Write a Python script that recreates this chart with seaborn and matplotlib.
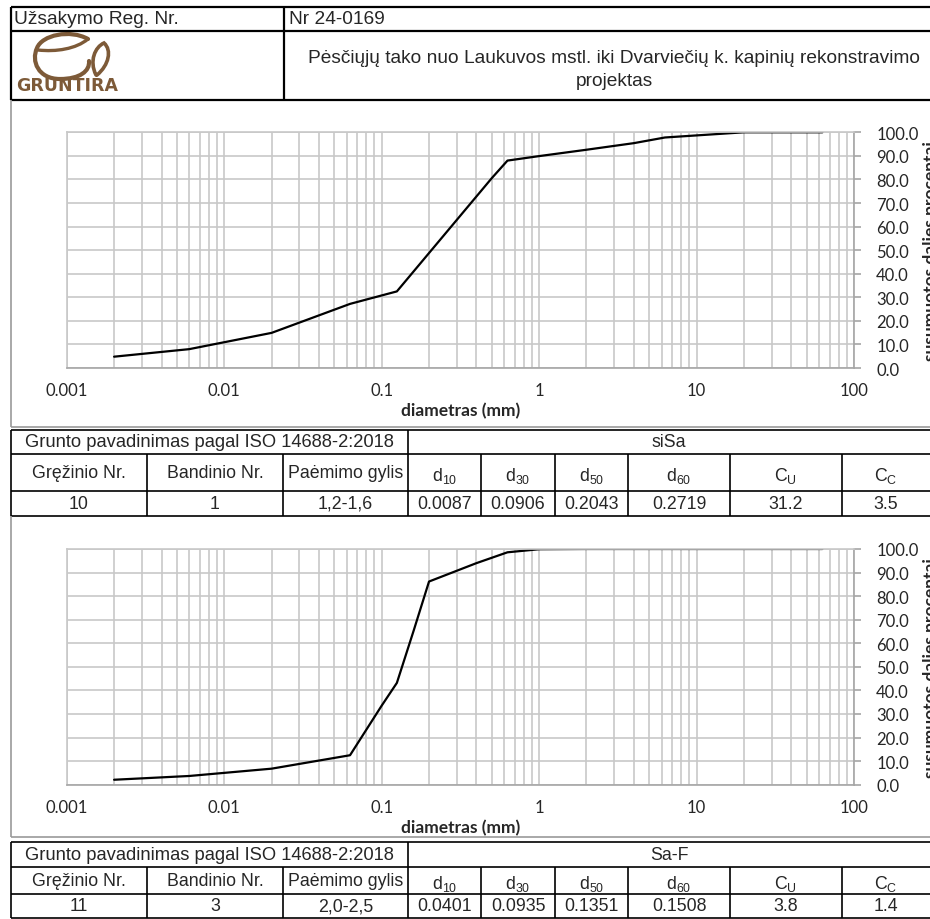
import numpy as np
import matplotlib
matplotlib.use("Agg")
import matplotlib.pyplot as plt
from matplotlib.lines import Line2D
from matplotlib.path import Path
from matplotlib.patches import PathPatch
from matplotlib.ticker import FixedLocator, FixedFormatter, NullFormatter, LogLocator
import seaborn as sns

# ---------------- DATA ----------------
order_label = "Užsakymo Reg. Nr."
order_no = "Nr 24-0169"
project_title = "Pėsčiųjų tako nuo Laukuvos mstl. iki Dvarviečių k. kapinių rekonstravimo\nprojektas"

# sample 1 (borehole 10)
diam_1 = [0.002, 0.006, 0.02, 0.063, 0.125, 0.25, 0.5, 0.63, 1, 2, 4, 6.3, 20, 63]
pass_1 = [4.8, 8.0, 14.9, 27.2, 32.5, 56.5, 80.5, 88.0, 89.9, 92.6, 95.4, 97.8, 100.0, 100.0]

# sample 2 (borehole 11)
diam_2 = [0.002, 0.006, 0.02, 0.063, 0.1, 0.125, 0.16, 0.2, 0.4, 0.63, 1, 2, 6.3, 20, 63]
pass_2 = [2.1, 3.7, 6.8, 12.5, 33.5, 43.2, 65.5, 86.2, 94.0, 98.6, 99.9, 100.0, 100.0, 100.0, 100.0]

x_ticks = [0.001, 0.01, 0.1, 1, 10, 100]
x_tick_labels = ["0.001", "0.01", "0.1", "1", "10", "100"]
y_ticks = list(range(0, 101, 10))

table_head = ["Gręžinio Nr.", "Bandinio Nr.", "Paėmimo gylis",
              r"d$_{10}$", r"d$_{30}$", r"d$_{50}$", r"d$_{60}$", r"C$_{U}$", r"C$_{C}$"]
soil_names = ["siSa", "Sa-F"]
table_rows = [
    ["10", "1", "1,2-1,6", "0.0087", "0.0906", "0.2043", "0.2719", "31.2", "3.5"],
    ["11", "3", "2,0-2,5", "0.0401", "0.0935", "0.1351", "0.1508", "3.8", "1.4"],
]

# ---------------- STYLE ----------------
sns.set_style("white")
plt.rcParams["font.family"] = ["Liberation Sans", "DejaVu Sans"]
plt.rcParams["mathtext.fontset"] = "custom"
plt.rcParams["mathtext.rm"] = "Liberation Sans"
plt.rcParams["mathtext.it"] = "Liberation Sans"
plt.rcParams["mathtext.default"] = "rm"

W, H = 930, 920
fig = plt.figure(figsize=(W / 100, H / 100), dpi=100)
fig.patch.set_facecolor("white")


def fx(px):
    return px / W


def fy(py):
    return 1 - py / H


def hline(y, x0, x1, color="black", lw=1.2):
    fig.add_artist(Line2D([fx(x0), fx(x1)], [fy(y), fy(y)], transform=fig.transFigure,
                          color=color, lw=lw, solid_capstyle="butt"))


def vline(x, y0, y1, color="black", lw=1.2):
    fig.add_artist(Line2D([fx(x), fx(x)], [fy(y0), fy(y1)], transform=fig.transFigure,
                          color=color, lw=lw, solid_capstyle="butt"))


def put(x, y, s, size=12.8, ha="center", **kw):
    fig.text(fx(x), fy(y), s, ha=ha, va="center", fontsize=size, **kw)


# ---------------- HEADER ----------------
hline(8, 11, 930, lw=1.6)
hline(32, 11, 930, lw=1.6)
hline(101, 11, 930, lw=1.6)
vline(11, 8, 101, lw=1.6)
vline(284, 8, 101, lw=1.6)
put(14, 20, order_label, size=13.8, ha="left")
put(289, 20, order_no, size=13.8, ha="left")
put(614, 70, project_title, size=13.8, linespacing=1.5)

# logo
brown = "#7d5a38"
lax = fig.add_axes([fx(13), fy(98), fx(130) - fx(13), fy(33) - fy(98)])
lax.set_xlim(13, 130)
lax.set_ylim(98, 33)
lax.axis("off")
big = Path([(88, 40), (70, 30), (42, 36), (37, 49),
            (31, 62), (38, 80), (60, 80),
            (80, 80), (90, 72), (89, 62)],
           [Path.MOVETO, Path.CURVE4, Path.CURVE4, Path.CURVE4,
            Path.CURVE4, Path.CURVE4, Path.CURVE4,
            Path.CURVE4, Path.CURVE4, Path.CURVE4])
inner = Path([(38, 51), (56, 53), (76, 50), (88, 40)],
             [Path.MOVETO, Path.CURVE4, Path.CURVE4, Path.CURVE4])
leaf = Path([(96, 76), (89, 62), (95, 48), (104, 44), (112, 51), (109, 66), (97, 76)],
            [Path.MOVETO, Path.CURVE4, Path.CURVE4, Path.CURVE4,
             Path.CURVE4, Path.CURVE4, Path.CURVE4])
for p, lw in [(big, 3.0), (inner, 2.4), (leaf, 2.6)]:
    lax.add_patch(PathPatch(p, fill=False, edgecolor=brown, lw=lw, capstyle="round"))
put(16, 86, "GRUNTIRA", size=12.5, ha="left", color=brown, fontweight="bold",
    family=["DejaVu Sans"])

# ---------------- CHARTS ----------------
grid_col = "#c8c8c8"
axis_col = "#a6a6a6"
panel_col = "#9a9a9a"
tick_font = ["Lato", "DejaVu Sans"]


def grading_chart(top, diam, passing):
    bottom = top + 235.7
    ax = fig.add_axes([fx(66.7), fy(bottom), fx(854) - fx(66.7), fy(top) - fy(bottom)])
    sns.lineplot(x=diam, y=passing, ax=ax, color="black", lw=1.6, estimator=None,
                 sort=False)
    ax.set_xscale("log")
    ax.set_xlim(0.001, 100)
    ax.set_ylim(0, 100)
    ax.xaxis.set_major_locator(FixedLocator(x_ticks))
    ax.xaxis.set_major_formatter(FixedFormatter(x_tick_labels))
    ax.xaxis.set_minor_locator(LogLocator(base=10, subs=np.arange(2, 10)))
    ax.xaxis.set_minor_formatter(NullFormatter())
    ax.set_yticks(y_ticks)
    ax.set_yticklabels([f"{v:.1f}" for v in y_ticks])
    ax.yaxis.tick_right()
    ax.grid(which="major", axis="both", color=grid_col, lw=1.2)
    ax.grid(which="minor", axis="x", color=grid_col, lw=1.2)
    ax.set_axisbelow(True)
    ax.tick_params(axis="x", which="major", direction="out", length=5, width=1.2,
                   color=axis_col, pad=5, labelsize=12)
    ax.tick_params(axis="x", which="minor", length=0)
    ax.tick_params(axis="y", which="major", direction="out", length=5, width=1.2,
                   color=axis_col, pad=11, labelsize=12, right=True, left=False)
    for lab in ax.get_xticklabels() + ax.get_yticklabels():
        lab.set_family(tick_font)
    for side, sp in ax.spines.items():
        sp.set_visible(True)
        sp.set_color(grid_col if side in ("left", "top") else axis_col)
        sp.set_linewidth(1.2)
    ax.set_xlabel("diametras (mm)", fontsize=12.5, fontweight="bold", family=tick_font,
                  labelpad=3)
    ax.set_ylabel("")
    fig.text(fx(931), fy(top + 118), "susumuotos dalies procentai", rotation=90,
             ha="center", va="center", fontsize=12.5, fontweight="bold", family=tick_font)
    return ax


def data_table(ys, name, row):
    cols = [11, 147, 283, 408, 481, 555, 628, 730, 842, 930]
    for y in ys:
        hline(y, 11, 930)
    vline(11, ys[0], ys[3])
    vline(408, ys[0], ys[3])
    for x in cols[1:-1]:
        if x != 408:
            vline(x, ys[1], ys[3])
    put(209, (ys[0] + ys[1]) / 2, "Grunto pavadinimas pagal ISO 14688-2:2018", size=13.2)
    put(669, (ys[0] + ys[1]) / 2, name)
    for i in range(9):
        cx = (cols[i] + cols[i + 1]) / 2
        dy = 3 if i >= 3 else 0
        put(cx, (ys[1] + ys[2]) / 2 + dy, table_head[i])
        put(cx, (ys[2] + ys[3]) / 2, row[i])


# panel 1
vline(11, 101, 428, color=panel_col)
hline(428, 11, 930, color=panel_col)
grading_chart(133.3, diam_1, pass_1)
data_table([431, 455, 492, 517], soil_names[0], table_rows[0])

# panel 2
vline(11, 517, 838, color=panel_col)
hline(838, 11, 930, color=panel_col)
grading_chart(550, diam_2, pass_2)
data_table([843, 868, 895, 919], soil_names[1], table_rows[1])

fig.savefig("out.png", dpi=100, facecolor="white")
